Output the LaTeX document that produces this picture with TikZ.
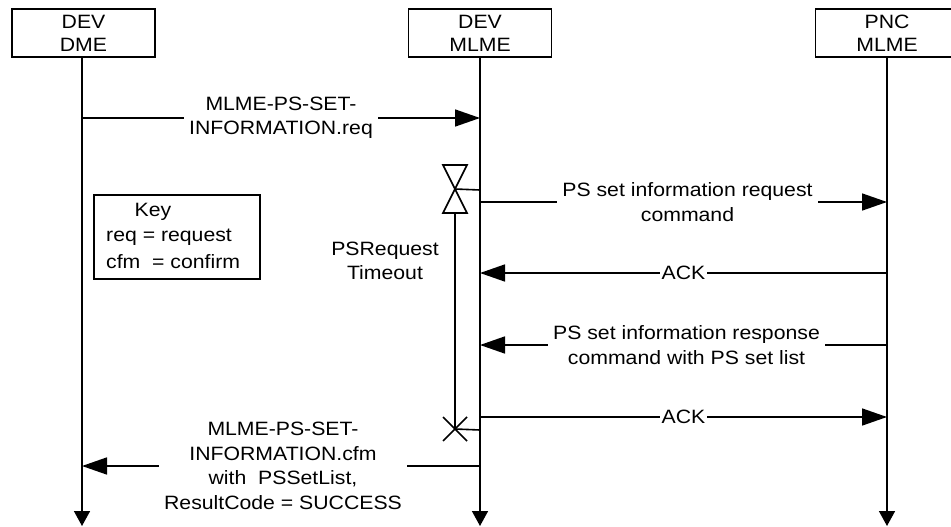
\documentclass[tikz,border=0pt]{standalone}
\usepackage{fontspec}
\setmainfont[FakeStretch=1.1]{Liberation Sans}
\usetikzlibrary{arrows.meta}
\begin{document}
\begin{tikzpicture}[x=1pt,y=-1pt,
  every node/.style={font=\fontsize{19.3}{24.5}\selectfont},
  entity/.style={draw,line width=1.6pt,minimum width=143pt,minimum height=48pt,inner sep=0pt,align=center,font=\fontsize{19.3}{23}\selectfont},
  life/.style={line width=1.6pt,-{Triangle[length=15pt,width=16pt]}},
  msg/.style={line width=1.6pt,-{Triangle[length=25pt,width=17pt]}},
  lbl/.style={fill=white,inner xsep=5pt,inner ysep=1pt,align=center},
  thin/.style={line width=1.6pt}]
\useasboundingbox (0,0) rectangle (951,527);
% entities
\node[entity] (dme) at (83.5,33) {DEV\\DME};
\node[entity] (mlme) at (480,33) {DEV\\MLME};
\node[entity] (pnc) at (887,33) {PNC\\MLME};
% lifeline ends
\coordinate (dmeEnd) at (82,526);
\coordinate (mlmeEnd) at (480,526);
\coordinate (pncEnd) at (887,526);
\draw[life] (dme.south -| dmeEnd) -- (dmeEnd);
\draw[life] (mlme.south) -- (mlmeEnd);
\draw[life] (pnc.south) -- (pncEnd);
% message points
\coordinate (a1) at (82,118);  \coordinate (b1) at (480,118);
\coordinate (b2) at (480,202); \coordinate (c2) at (887,202);
\coordinate (c3) at (887,273); \coordinate (b3) at (480,273);
\coordinate (c4) at (887,345); \coordinate (b4) at (480,345);
\coordinate (b5) at (480,417); \coordinate (c5) at (887,417);
\coordinate (b6) at (480,466); \coordinate (a6) at (82,466);
\draw[msg] (a1) -- node[lbl] (l1) {MLME-PS-SET-\\INFORMATION.req} (b1);
\draw[msg] (b2) -- node[lbl,xshift=4pt] (l2) {PS set information request\\command} (c2);
\draw[msg] (c3) -- node[lbl,inner xsep=2pt] (l3) {ACK} (b3);
\draw[msg] (c4) -- node[lbl,xshift=3pt] (l4) {PS set information response\\command with PS set list} (b4);
\draw[msg] (b5) -- node[lbl,inner xsep=2pt] (l5) {ACK} (c5);
\draw[msg] (b6) -- node[lbl,xshift=2pt] (l6) {MLME-PS-SET-\\INFORMATION.cfm\\with\ \ PSSetList,\\ResultCode = SUCCESS} (a6);
% timer
\coordinate (tc) at (455,189);
\coordinate (tx) at (455,429);
\coordinate (tb) at (455,213);
\draw[thin,fill=white] (443,165) -- (467,165) -- (443,213) -- (467,213) -- cycle;
\draw[thin] (tc) -- (480,190);
\draw[thin] (tb) -- (tx);
\draw[thin] (443,417) -- (467,441) (443,441) -- (467,417);
\draw[thin] (tx) -- (480,430);
\node (timer) at (385,261) [align=center] {PSRequest\\Timeout};
% key
\node[draw,thin,minimum width=166pt,minimum height=84pt,inner sep=0pt] (key) at (177,237) {};
\node (keyt) at (153,212) {Key};
\node[anchor=west,inner sep=0pt] (k1) at (106,237) {req = request};
\node[anchor=west,inner sep=0pt] (k2) at (106,262) {cfm\ \ = confirm};
\end{tikzpicture}
\end{document}
